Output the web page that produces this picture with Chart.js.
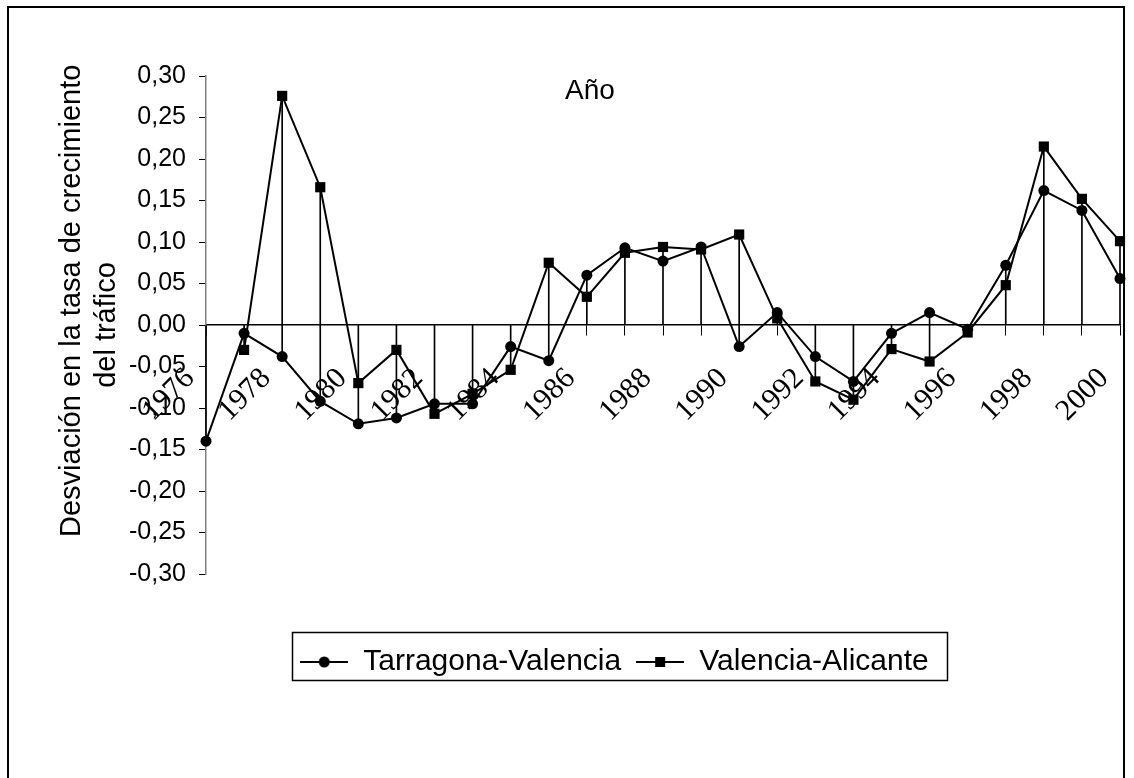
<!DOCTYPE html>
<html>
<head>
<meta charset="utf-8">
<script src="https://cdn.jsdelivr.net/npm/chart.js@4/dist/chart.umd.min.js"></script>
<style>
  html, body { margin: 0; padding: 0; background: #fff; }
  #wrap { position: relative; width: 1134px; height: 778px; overflow: hidden; }
  #frame { position: absolute; left: 7px; top: 6px; width: 1118px; height: 800px; border: 2px solid #000; box-sizing: border-box; }
  canvas { position: absolute; left: 0; top: 0; }
</style>
</head>
<body>
<div id="wrap">
  <div id="frame"></div>
  <canvas id="c" width="1134" height="778"></canvas>
</div>
<script>
const years = ['1976','1977','1978','1979','1980','1981','1982','1983','1984','1985','1986','1987','1988',
               '1989','1990','1991','1992','1993','1994','1995','1996','1997','1998','1999','2000'];
const yearLabels = ['1976','1978','1980','1982','1984','1986','1988','1990','1992','1994','1996','1998','2000'];
const tarragonaValencia = [-0.140, -0.010, -0.038, -0.092, -0.119, -0.112, -0.095, -0.095, -0.026, -0.043,
                           0.060, 0.093, 0.077, 0.094, -0.026, 0.015, -0.038, -0.068, -0.010, 0.015,
                           -0.005, 0.072, 0.162, 0.138, 0.056];
const valenciaAlicante = [null, -0.030, 0.276, 0.166, -0.070, -0.030, -0.107, -0.083, -0.054, 0.075,
                          0.034, 0.087, 0.094, 0.091, 0.109, 0.008, -0.068, -0.090, -0.029, -0.044,
                          -0.009, 0.048, 0.215, 0.152, 0.101];
const seriesNames = ['Tarragona-Valencia', 'Valencia-Alicante'];
const yMin = -0.30, yMax = 0.30, yStep = 0.05;
const yTitle = ['      Desviación en la tasa de crecimiento', 'del tráfico'];
const xTitle = 'Año';

// vertical high-low lines spanning 0 and both series at each year
const spans = years.map((_, i) => {
  const vals = [0, tarragonaValencia[i], valenciaAlicante[i]].filter(v => v !== null);
  return [Math.min(...vals), Math.max(...vals)];
});

function makeMarker(kind) {
  const c = document.createElement('canvas');
  c.width = 48; c.height = 16;
  const g = c.getContext('2d');
  g.strokeStyle = '#000'; g.lineWidth = 2;
  g.beginPath(); g.moveTo(0, 8); g.lineTo(48, 8); g.stroke();
  g.fillStyle = '#000';
  if (kind === 'circle') { g.beginPath(); g.arc(24, 8, 5.5, 0, Math.PI * 2); g.fill(); }
  else { g.fillRect(19, 3, 10, 10); }
  return c;
}
const markers = [makeMarker('circle'), makeMarker('rect')];

const SANS = '"Liberation Sans", Arial, sans-serif';
const SERIF = '"Liberation Serif", "Times New Roman", serif';
Chart.defaults.color = '#000';
Chart.defaults.font.family = SANS;

const decor = {
  id: 'decor',
  beforeDraw(chart) {
    const lg = chart.legend;
    const pad = lg.options.labels.padding;
    const dy = 632 - lg.top;
    lg.top += dy; lg.bottom += dy;
    const rowCenter = (lg.left + lg.right + pad) / 2;
    const dx = 622 - rowCenter;
    lg.left += dx; lg.right += dx;
  },
  afterDraw(chart) {
    const ctx = chart.ctx;
    const lg = chart.legend;
    const pad = lg.options.labels.padding;
    const lw = lg.lineWidths[0];
    const rowStart = (lg.left + pad + lg.right - lw) / 2;
    ctx.save();
    ctx.strokeStyle = '#000';
    ctx.lineWidth = 1.5;
    const bx = Math.round(rowStart - 8) + 0.5;
    const bw = Math.round(lw - pad + 26);
    ctx.strokeRect(bx, lg.top + 0.5, bw, 48);
    ctx.font = '28px ' + SANS;
    ctx.fillStyle = '#000';
    ctx.textAlign = 'center';
    ctx.textBaseline = 'middle';
    ctx.fillText(xTitle, 590, 91);
    ctx.restore();
  }
};

new Chart(document.getElementById('c'), {
  type: 'line',
  data: {
    labels: years,
    datasets: [
      {
        label: seriesNames[0],
        data: tarragonaValencia,
        borderColor: '#000', borderWidth: 2,
        pointStyle: 'circle', pointRadius: 5.5, pointBackgroundColor: '#000', pointBorderWidth: 0,
        tension: 0, clip: false, order: 2
      },
      {
        label: seriesNames[1],
        data: valenciaAlicante,
        borderColor: '#000', borderWidth: 2,
        pointStyle: 'rect', pointRadius: 7.2, pointBackgroundColor: '#000', pointBorderWidth: 0,
        tension: 0, clip: false, order: 1
      },
      {
        type: 'bar',
        label: 'span',
        data: spans,
        backgroundColor: '#000', borderWidth: 0,
        barThickness: 1, clip: false, order: 3
      }
    ]
  },
  options: {
    responsive: false,
    animation: false,
    events: [],
    layout: { padding: { left: 40, right: 14, top: 76, bottom: 149 } },
    scales: {
      x: {
        type: 'category',
        position: { y: 0 },
        offset: false,
        afterFit: (s) => { s.paddingLeft = 0; s.paddingRight = 0; },
        grid: { offset: false, drawOnChartArea: false, tickLength: 10, tickColor: '#000', color: '#000', lineWidth: 1 },
        border: { color: '#000', width: 1.5 },
        ticks: {
          autoSkip: false, minRotation: 45, maxRotation: 45, padding: 26, labelOffset: -16,
          font: { family: SERIF, size: 30 }, color: '#000',
          callback: (v, i) => yearLabels.includes(years[i]) ? years[i] : ''
        }
      },
      y: {
        min: yMin, max: yMax,
        afterFit: (s) => { s.width = 166; },
        grid: { drawOnChartArea: false, tickLength: 7, tickColor: '#000', color: '#000', lineWidth: 1 },
        border: { color: '#808080', width: 1.5 },
        ticks: {
          stepSize: yStep, padding: 13, color: '#000',
          font: { family: SANS, size: 25 },
          callback: (v) => (Math.abs(v) < 1e-9 ? 0 : v).toFixed(2).replace('.', ',')
        },
        title: {
          display: true, text: yTitle, color: '#000',
          font: { family: SANS, size: 29, lineHeight: 1.22 },
          padding: { top: 14, bottom: 0 }
        }
      }
    },
    plugins: {
      tooltip: { enabled: false },
      legend: {
        position: 'bottom',
        labels: {
          usePointStyle: true, pointStyleWidth: 48, padding: 15,
          font: { family: SANS, size: 30 }, color: '#000',
          filter: (item) => item.datasetIndex < 2,
          sort: (a, b) => a.datasetIndex - b.datasetIndex,
          generateLabels: (chart) => {
            const items = Chart.defaults.plugins.legend.labels.generateLabels(chart);
            items.forEach(it => { if (it.datasetIndex < 2) it.pointStyle = markers[it.datasetIndex]; });
            return items;
          }
        }
      }
    }
  },
  plugins: [decor]
});
</script>
</body>
</html>
